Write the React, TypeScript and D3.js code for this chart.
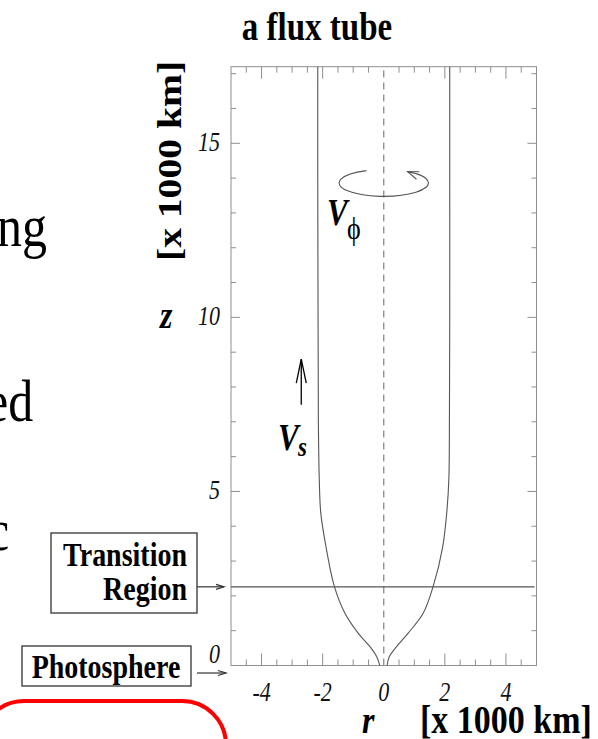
import React from "react";
import * as d3 from "d3";

// ---- data ----
const zTube = [0, 0.25, 0.54, 0.93, 1.5, 2.28, 3.41, 4.37, 5.33, 7, 10, 14, 17.2];
const rLeft = [-0.13, -0.23, -0.45, -0.84, -1.27, -1.62, -1.89, -2.06, -2.11, -2.14, -2.15, -2.16, -2.16];
const rRight = [0.11, 0.18, 0.42, 0.8, 1.29, 1.62, 1.93, 2.06, 2.13, 2.15, 2.16, 2.16, 2.16];
const xTickLabels = [-4, -2, 0, 2, 4];
const yTickLabels = [0, 5, 10, 15];
const transitionZ = 2.26;
const rDomain = [-5, 5];
const zDomain = [0, 17.2];

const W = 598;
const H = 739;
const serif = "'Liberation Serif', 'Times New Roman', serif";
const SY = 1.2; // vertical stretch of the source figure's lettering

function arrowHead(tx: number, ty: number, ang: number, len: number, hw: number) {
  const bx = tx - Math.cos(ang) * len;
  const by = ty - Math.sin(ang) * len;
  const px = -Math.sin(ang) * hw;
  const py = Math.cos(ang) * hw;
  return `M${bx + px},${by + py}L${tx},${ty}L${bx - px},${by - py}`;
}

type TProps = {
  x: number;
  y: number;
  size: number;
  bold?: boolean;
  italic?: boolean;
  anchor?: "start" | "middle" | "end";
  sy?: number;
  rotate?: number;
  fill?: string;
  children: React.ReactNode;
};

function T({ x, y, size, bold, italic, anchor = "start", sy = SY, rotate = 0, fill = "#000", children }: TProps) {
  const tr = rotate
    ? `translate(${x},${y}) rotate(${rotate}) scale(${sy},1)`
    : `translate(${x},${y}) scale(1,${sy})`;
  return (
    <text
      transform={tr}
      x={0}
      y={0}
      textAnchor={anchor}
      fontFamily={serif}
      fontSize={size}
      fontWeight={bold ? "bold" : "normal"}
      fontStyle={italic ? "italic" : "normal"}
      fill={fill}
    >
      {children}
    </text>
  );
}

export default function App() {
  const x = d3.scaleLinear().domain(rDomain).range([231, 536.5]);
  const y = d3.scaleLinear().domain(zDomain).range([665.5, 66.7]);
  const [x0, x1] = x.range();
  const [yb, yt] = y.range();

  const leftPts: [number, number][] = zTube.map((z, i) => [rLeft[i], z]);
  const rightPts: [number, number][] = zTube.map((z, i) => [rRight[i], z]);
  const line = d3
    .line<[number, number]>()
    .x((d) => x(d[0]))
    .y((d) => y(d[1]))
    .curve(d3.curveCatmullRom.alpha(0.5));

  const xMinor = d3.range(-4.5, 5, 0.5).filter((v) => Math.abs(v) > 1e-9);
  const yMinor = d3.range(1, 17.01, 1);
  const tickColor = "#8f8f8f";

  const tY = y(transitionZ);

  // V_phi rotation ellipse (data coords)
  const ec = { r: 0, z: 13.86, rr: 1.46, rz: 0.385 };
  const ecx = x(ec.r);
  const ecy = y(ec.z);
  const erx = x(ec.rr) - x(0);
  const ery = y(0) - y(ec.rz);
  const a0 = Math.acos((x(-0.57) - ecx) / erx);
  const sx = ecx + erx * Math.cos(a0);
  const sy = ecy - ery * Math.sin(a0);
  const a1 = Math.acos((x(0.78) - ecx) / erx);
  const ex = ecx + erx * Math.cos(a1);
  const ey = ecy - ery * Math.sin(a1);

  const vsX = x(-2.7);
  const vsY0 = y(7.49);
  const vsY1 = y(8.8);

  return (
    <svg
      width={W}
      height={H}
      viewBox={`0 0 ${W} ${H}`}
      style={{ position: "absolute", left: 0, top: 0, background: "#fff" }}
    >
      {/* cut-off slide text at left */}
      <T x={-3} y={246} size={50}>ng</T>
      <T x={-14} y={421} size={50}>ed</T>
      <T x={-13} y={550} size={50}>c</T>

      {/* title */}
      <T x={317} y={40} size={33} bold anchor="middle">a flux tube</T>

      {/* frame */}
      <rect x={x0} y={yt} width={x1 - x0} height={yb - yt} fill="none" stroke={tickColor} strokeWidth={1} />

      {/* x ticks top & bottom */}
      {xMinor.map((v) => {
        const long = xTickLabels.includes(v);
        const L = long ? 12 : 6;
        return (
          <g key={"xt" + v} stroke={tickColor} strokeWidth={1}>
            <line x1={x(v)} x2={x(v)} y1={yb} y2={yb - L} />
            <line x1={x(v)} x2={x(v)} y1={yt} y2={yt + L} />
          </g>
        );
      })}
      {/* y ticks left & right */}
      {yMinor.map((v) => {
        const long = yTickLabels.includes(v);
        const L = long ? 9 : 5;
        return (
          <g key={"yt" + v} stroke={tickColor} strokeWidth={1}>
            <line x1={x0} x2={x0 + L} y1={y(v)} y2={y(v)} />
            <line x1={x1} x2={x1 - L} y1={y(v)} y2={y(v)} />
          </g>
        );
      })}

      {/* tick labels */}
      {xTickLabels.map((v) => (
        <T key={"xl" + v} x={x(v)} y={701} size={22} italic anchor="middle" sy={1.25} fill="#111">
          {v < 0 ? "-" + Math.abs(v) : String(v)}
        </T>
      ))}
      {yTickLabels.map((v) => (
        <T key={"yl" + v} x={220} y={v === 0 ? y(v) - 3 : y(v) + 8} size={22} italic anchor="end" sy={1.25} fill="#111">
          {v}
        </T>
      ))}

      {/* center dashed axis */}
      <line x1={x(0)} x2={x(0)} y1={yb} y2={yt} stroke="#8a8a8a" strokeWidth={1.3} strokeDasharray="7,5" />

      {/* transition region line */}
      <line x1={x0} x2={x1 - 2} y1={tY} y2={tY} stroke="#555" strokeWidth={1.2} />

      {/* tube boundaries */}
      <path d={line(leftPts) || ""} fill="none" stroke="#555" strokeWidth={1.1} />
      <path d={line(rightPts) || ""} fill="none" stroke="#555" strokeWidth={1.1} />

      {/* V_phi rotation arrow */}
      <path d={`M${sx},${sy} A${erx},${ery} 0 1 0 ${ex},${ey}`} fill="none" stroke="#555" strokeWidth={1.1} />
      <path d={arrowHead(ex, ey, Math.atan2(-3, -8), 11, 4)} fill="none" stroke="#555" strokeWidth={1.1} />
      <T x={327} y={225} size={31} bold italic>V</T>
      <T x={347} y={239} size={26}>ϕ</T>

      {/* V_s arrow */}
      <line x1={vsX} x2={vsX} y1={vsY0} y2={vsY1} stroke="#000" strokeWidth={1.3} />
      <path d={arrowHead(vsX, vsY1, -Math.PI / 2, 24, 5)} fill="none" stroke="#000" strokeWidth={1.3} />
      <T x={278} y={450} size={31} bold italic>V</T>
      <T x={298} y={456} size={23} bold italic>s</T>

      {/* axis labels */}
      <T x={181} y={161} size={33} bold anchor="middle" rotate={-90}>[x 1000 km]</T>
      <T x={160} y={328} size={32} bold italic>z</T>
      <T x={362} y={733} size={32} bold italic>r</T>
      <T x={420} y={733} size={34} bold>[x 1000 km]</T>

      {/* Transition Region box */}
      <rect x={51} y={533} width={146} height={80} fill="#fff" stroke="#333" strokeWidth={1.3} />
      <T x={187} y={566} size={28} bold anchor="end">Transition</T>
      <T x={187} y={600} size={28} bold anchor="end">Region</T>
      <line x1={197} x2={224} y1={tY} y2={tY} stroke="#333" strokeWidth={1.2} />
      <path d={arrowHead(224, tY, 0, 8, 2.5)} fill="none" stroke="#333" strokeWidth={1.2} />

      {/* Photosphere box */}
      <rect x={22} y={646} width={169} height={40} fill="#fff" stroke="#333" strokeWidth={1.3} />
      <T x={106} y={678} size={28} bold anchor="middle">Photosphere</T>
      <line x1={197} x2={226} y1={673} y2={673} stroke="#333" strokeWidth={1.2} />
      <path d={arrowHead(226, 673, 0, 8, 2.5)} fill="none" stroke="#333" strokeWidth={1.2} />

      {/* red rounded box (cut off) */}
      <rect x={-20} y={701} width={246} height={120} rx={44} ry={44} fill="none" stroke="#ff0000" strokeWidth={4} />
    </svg>
  );
}
